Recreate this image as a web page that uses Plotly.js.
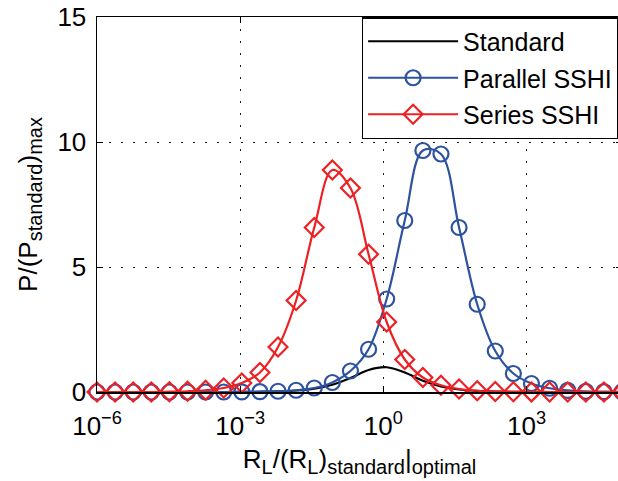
<!DOCTYPE html>
<html>
<head>
<meta charset="utf-8">
<script src="https://cdn.plot.ly/plotly-3.0.1.min.js"></script>
<style>
html,body{margin:0;padding:0;overflow:hidden;background:#fff;width:618px;height:481px;}
#chart{width:624px;height:481px;}
</style>
</head>
<body>
<div id="chart"></div>
<script>
// x: 30 log-spaced points from 1e-6 to 1e5 (exponents)
const xExp = [-6.000,-5.621,-5.241,-4.862,-4.483,-4.103,-3.724,-3.345,-2.966,-2.586,
              -2.207,-1.828,-1.448,-1.069,-0.690,-0.310,0.069,0.448,0.828,1.207,
              1.586,1.966,2.345,2.724,3.103,3.483,3.862,4.241,4.621,5.000];
const xVals = xExp.map(e => Math.pow(10, e));

const standard = [0,0,0,0,0,0,0,0,0.002,0.01,
                  0.025,0.06,0.135,0.29,0.56,0.88,0.99,0.78,0.45,0.22,
                  0.10,0.043,0.018,0.007,0.003,0.001,0,0,0,0];
const parallel = [0,0,0,0,0,0,0,0,0.005,0.012,
                  0.03,0.07,0.16,0.38,0.84,1.71,3.72,6.86,9.66,9.52,
                  6.58,3.51,1.64,0.74,0.34,0.15,0.065,0.028,0.012,0.005];
const series = [0,0,0,0,0.013,0.03,0.07,0.16,0.36,0.78,
                1.80,3.66,6.58,8.88,8.16,5.51,2.80,1.30,0.58,0.27,
                0.12,0.05,0.02,0.01,0.004,0,0,0,0,0];

const names = ['Standard', 'Parallel SSHI', 'Series SSHI'];
const xTickVals = [1e-6, 1e-3, 1e0, 1e3];
const xTickText = ['10<sup>−6</sup>', '10<sup>−3</sup>', '10<sup>0</sup>', '10<sup>3</sup>'];
const yTickVals = [0, 5, 10, 15];

const BLUE = '#2d52a0';
const RED = '#ed2024';
const FONT = 'Liberation Sans, Arial, Helvetica, sans-serif';
const SUB = s => '<sub><span style="font-size:20px">' + s + '</span></sub>';

const traces = [
  {x: xVals, y: standard, name: names[0], mode: 'lines', legendgroup: 'a',
   line: {color: '#000', width: 2.2, shape: 'spline'}, cliponaxis: false},
  {x: xVals, y: parallel, name: names[1], mode: 'lines+markers', legendgroup: 'b',
   line: {color: BLUE, width: 2.2, shape: 'spline'},
   marker: {symbol: 'circle-open', size: 15, color: BLUE, line: {width: 2.2, color: BLUE}},
   cliponaxis: false},
  {x: xVals, y: series, name: names[2], mode: 'lines+markers', legendgroup: 'c',
   line: {color: RED, width: 2.2, shape: 'spline'},
   marker: {symbol: 'diamond-open', size: 14.5, color: RED, line: {width: 2.2, color: RED}},
   cliponaxis: false}
];

const layout = {
  width: 624, height: 481,
  margin: {l: 97, r: 2, t: 17, b: 89},
  paper_bgcolor: '#fff', plot_bgcolor: '#fff',
  font: {family: FONT, size: 25, color: '#000'},
  showlegend: true,
  legend: {x: 0.504, y: 1, xanchor: 'left', yanchor: 'top',
           bgcolor: '#fff', bordercolor: '#000', borderwidth: 1.5,
           font: {family: FONT, size: 25, color: '#000'},
           traceorder: 'grouped', tracegroupgap: 1, itemwidth: 90},
  xaxis: {type: 'log', range: [-6, 5], tickvals: xTickVals, ticktext: xTickText,
          ticks: 'inside', ticklen: 6, tickwidth: 1, tickcolor: '#000',
          showline: true, linecolor: '#000', linewidth: 1.5, mirror: 'ticks',
          showgrid: true, gridcolor: '#222', gridwidth: 1, griddash: '2px,10px',
          zeroline: false, tickfont: {size: 26}, automargin: false,
          ticklabelstandoff: 10,
          title: {text: 'R' + SUB('L') + '/(R' + SUB('L') + ')' + SUB('standard') + '|' + SUB('optimal'),
                  font: {size: 26}, standoff: 10}},
  yaxis: {range: [0, 15], tickvals: yTickVals,
          ticks: 'inside', ticklen: 6, tickwidth: 1, tickcolor: '#000',
          showline: true, linecolor: '#000', linewidth: 1.5, mirror: 'ticks',
          showgrid: true, gridcolor: '#222', gridwidth: 1, griddash: '2px,10px',
          zeroline: false, tickfont: {size: 26}, automargin: false,
          ticklabelstandoff: 4,
          title: {text: 'P/(P' + SUB('standard') + ')' + SUB('max'), font: {size: 26}, standoff: 12}}
};

Plotly.newPlot('chart', traces, layout, {displayModeBar: false, staticPlot: true});
</script>
</body>
</html>
